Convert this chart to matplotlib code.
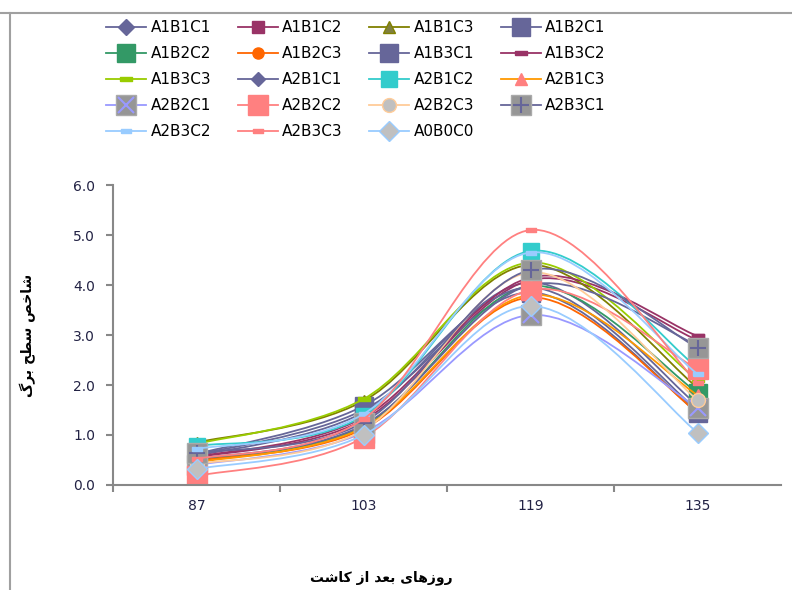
import numpy as np
import matplotlib
matplotlib.use("Agg")
import matplotlib.pyplot as plt
from matplotlib.path import Path
from matplotlib.patches import PathPatch
from matplotlib.lines import Line2D

# data
days = [87, 103, 119, 135]
names = ["A1B1C1", "A1B1C2", "A1B1C3", "A1B2C1", "A1B2C2", "A1B2C3",
         "A1B3C1", "A1B3C2", "A1B3C3", "A2B1C1", "A2B1C2", "A2B1C3",
         "A2B2C1", "A2B2C2", "A2B2C3", "A2B3C1", "A2B3C2", "A2B3C3", "A0B0C0"]
A1B1C1 = [0.58, 1.45, 4.05, 1.60]
A1B1C2 = [0.55, 1.30, 4.10, 2.90]
A1B1C3 = [0.85, 1.68, 4.40, 1.95]
A1B2C1 = [0.60, 1.50, 3.85, 1.45]
A1B2C2 = [0.50, 1.18, 3.98, 1.85]
A1B2C3 = [0.48, 1.12, 3.75, 1.45]
A1B3C1 = [0.62, 1.58, 3.95, 1.50]
A1B3C2 = [0.56, 1.35, 4.15, 2.98]
A1B3C3 = [0.82, 1.72, 4.45, 2.10]
A2B1C1 = [0.52, 1.20, 4.00, 2.80]
A2B1C2 = [0.78, 1.38, 4.68, 2.35]
A2B1C3 = [0.45, 1.15, 3.80, 1.80]
A2B2C1 = [0.40, 1.05, 3.40, 1.55]
A2B2C2 = [0.18, 0.95, 3.90, 2.32]
A2B2C3 = [0.42, 1.10, 4.25, 1.70]
A2B3C1 = [0.64, 1.25, 4.30, 2.75]
A2B3C2 = [0.72, 1.42, 4.65, 2.22]
A2B3C3 = [0.52, 1.32, 5.10, 2.05]
A0B0C0 = [0.32, 1.00, 3.58, 1.05]
values = [A1B1C1, A1B1C2, A1B1C3, A1B2C1, A1B2C2, A1B2C3, A1B3C1, A1B3C2,
          A1B3C3, A2B1C1, A2B1C2, A2B1C3, A2B2C1, A2B2C2, A2B2C3, A2B3C1,
          A2B3C2, A2B3C3, A0B0C0]

dash = [(-1, -0.35), (1, -0.35), (1, 0.35), (-1, 0.35), (-1, -0.35)]

# style: line color, marker, marker face, marker edge, size, overlay marker
styles = [
    ("#666699", "D", "#666699", "#666699", 8, None),
    ("#993366", "s", "#993366", "#993366", 8, None),
    ("#808000", "^", "#808040", "#808000", 8, None),
    ("#666699", "s", "#666699", "#666699", 13, None),
    ("#339966", "s", "#339966", "#339966", 13, None),
    ("#FF6600", "o", "#FF6600", "#FF6600", 8, None),
    ("#666699", "s", "#666699", "#666699", 13, None),
    ("#993366", dash, "#993366", "#993366", 8, None),
    ("#99CC00", dash, "#99CC00", "#99CC00", 8, None),
    ("#666699", "D", "#666699", "#666699", 7, None),
    ("#33CCCC", "s", "#33CCCC", "#33CCCC", 11, None),
    ("#FF9900", "^", "#FF8080", "#FF8080", 8, None),
    ("#9999FF", "s", "#969696", "#AAAAAA", 14, ("x", "#9999FF")),
    ("#FF8080", "s", "#FF8080", "#FF8080", 14, None),
    ("#FFCC99", "o", "#C0C0C0", "#FFCC99", 10, None),
    ("#666699", "s", "#969696", "#AAAAAA", 14, ("+", "#666699")),
    ("#99CCFF", dash, "#99CCFF", "#99CCFF", 7, None),
    ("#FF8080", dash, "#FF8080", "#FF8080", 7, None),
    ("#99CCFF", "D", "#C0C0C0", "#99CCFF", 10, None),
]


def smooth_path(xs, ys):
    pts = np.column_stack([xs, ys]).astype(float)
    n = len(pts)
    verts = [pts[0]]
    codes = [Path.MOVETO]
    for i in range(n - 1):
        p0 = pts[max(i - 1, 0)]
        p1 = pts[i]
        p2 = pts[i + 1]
        p3 = pts[min(i + 2, n - 1)]
        verts += [p1 + (p2 - p0) / 6, p2 - (p3 - p1) / 6, p2]
        codes += [Path.CURVE4] * 3
    return Path(verts, codes)


fig = plt.figure(figsize=(7.92, 5.90), dpi=100)
ax = fig.add_axes([113 / 792, 1 - 485 / 590, (781 - 113) / 792, 300 / 590])

xpos = np.arange(len(days))
handles = []
for i, (vals, st) in enumerate(zip(values, styles)):
    lc, mk, mf, me, ms, over = st
    z = 2 + i * 0.01
    ax.add_patch(PathPatch(smooth_path(xpos, vals), fill=False, edgecolor=lc,
                           lw=1.3, zorder=z))
    ax.plot(xpos, vals, linestyle="none", marker=mk, markerfacecolor=mf,
            markeredgecolor=me, markersize=ms, zorder=z + 0.001)
    h = Line2D([], [], color=lc, lw=1.3, marker=mk, markerfacecolor=mf,
               markeredgecolor=me, markersize=ms)
    if over is not None:
        ax.plot(xpos, vals, linestyle="none", marker=over[0], color=over[1],
                markersize=ms * 0.8, markeredgewidth=1.5, zorder=z + 0.002)
        h2 = Line2D([], [], linestyle="none", marker=over[0], color=over[1],
                    markersize=ms * 0.8, markeredgewidth=1.5)
        h = (h, h2)
    handles.append(h)

ax.set_xlim(-0.5, 3.5)
ax.set_ylim(0, 6)
ax.set_yticks(np.arange(0, 6.1, 1.0))
ax.set_yticklabels(["%.1f" % v for v in np.arange(0, 6.1, 1.0)])
ax.set_xticks(xpos)
ax.set_xticklabels([str(d) for d in days])
ax.set_xticks([-0.5, 0.5, 1.5, 2.5], minor=True)
ax.tick_params(axis="x", which="major", length=0, pad=10, labelsize=10)
ax.tick_params(axis="x", which="minor", length=5, width=1.5, color="#888888")
ax.tick_params(axis="y", length=5, width=1.5, color="#888888", labelsize=10, pad=8)
for lab in ax.get_xticklabels() + ax.get_yticklabels():
    lab.set_color("#222244")
for s in ["top", "right"]:
    ax.spines[s].set_visible(False)
for s in ["left", "bottom"]:
    ax.spines[s].set_color("#888888")
    ax.spines[s].set_linewidth(1.5)

# legend, row-wise order in 4 columns
order = [0, 4, 8, 12, 16, 1, 5, 9, 13, 17, 2, 6, 10, 14, 18, 3, 7, 11, 15]
fig.legend([handles[k] for k in order], [names[k] for k in order],
           ncol=4, loc="upper left", bbox_to_anchor=(100 / 792, 1 - 14 / 590),
           frameon=False, fontsize=11, handlelength=2.6, columnspacing=1.75,
           labelspacing=0.72, handletextpad=0.3, borderaxespad=0)

# persian labels (presentation forms, visual order)
xlabel = "\uFE96\uFEB7\uFE8E\uFB90 \uFEAF\uFE8D \uFEAA\uFECC\uFE91 \uFEEF\uFE8E\uFEEB\uFEAF\uFEED\uFEAD"
ylabel = "\uFB92\uFEAE\uFE91 \uFEA2\uFEC4\uFEB3 \uFEBA\uFEA7\uFE8E\uFEB7"
fig.text(381 / 792, 1 - 578 / 590, xlabel, ha="center", va="center",
         fontsize=10, fontweight="bold", family=["DejaVu Sans"])
fig.text(28 / 792, 1 - 335 / 590, ylabel, ha="center", va="center",
         rotation=90, fontsize=10, fontweight="bold", family=["DejaVu Sans"])

# chart frame
fig.add_artist(Line2D([0, 1], [1 - 13 / 590, 1 - 13 / 590], color="#A0A0A0", lw=1.5))
fig.add_artist(Line2D([10 / 792, 10 / 792], [0, 1 - 13 / 590], color="#A0A0A0", lw=1.5))

fig.savefig("out.png", dpi=100)
